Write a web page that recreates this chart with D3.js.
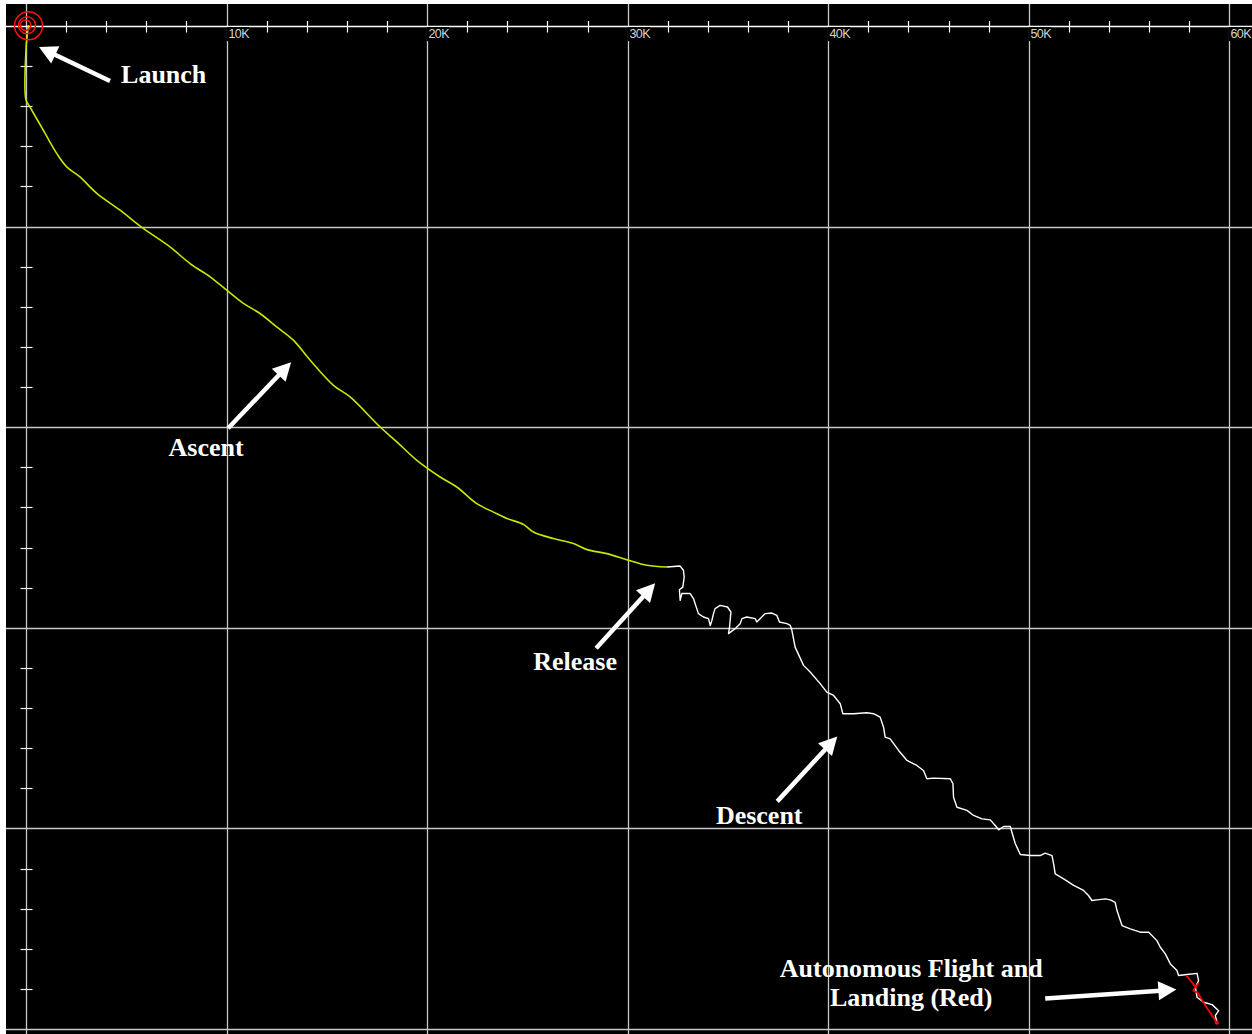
<!DOCTYPE html>
<html>
<head>
<meta charset="utf-8">
<script src="https://cdn.jsdelivr.net/npm/d3@7"></script>
<style>
  html, body { margin: 0; padding: 0; background: #ffffff; }
  svg { display: block; }
</style>
</head>
<body>
<script>
// Ground track of the flight: east / south offsets from the launch site.
const xTickValues = [10000, 20000, 30000, 40000, 50000, 60000];
const xTickLabels = ["10K", "20K", "30K", "40K", "50K", "60K"];
const yGridValues = [10000, 20000, 30000, 40000, 50000];
const minorStep = 2000;

const launchPoint = [100, 0];

// Balloon ascent track [east, south]
const ascentTrack = [
  [120, -40], [0, 1200], [0, 3690], [200, 4040], [860, 5190], [1530, 6350],
  [2030, 7020], [2690, 7520], [3530, 8340], [4690, 9180], [5850, 10090],
  [7180, 11010], [8180, 11840], [9180, 12500], [10010, 13170], [10840, 13830],
  [11670, 14330], [12500, 15000], [13330, 15660], [14170, 16660], [15330, 17910],
  [16160, 18490], [17660, 19990], [18490, 20730], [19490, 21650], [20650, 22480],
  [21480, 22980], [22480, 23810], [23310, 24230], [23980, 24550], [24800, 24840],
  [25300, 25220], [26300, 25550], [27300, 25800], [27970, 26100], [28960, 26300],
  [29960, 26600], [30960, 26880], [31960, 26970]
];

// Glider descent after release
const descentTrack = [
  [31960, 26970], [32620, 26920], [32780, 27130], [32820, 27470], [32750, 27970],
  [32580, 28100], [32620, 28630], [32700, 28290], [33120, 28290], [33280, 28540],
  [33530, 29290], [33780, 29460], [34030, 29540], [34120, 29880], [34200, 29630],
  [34280, 29290], [34360, 29040], [34610, 28880], [34980, 28960], [35150, 29210],
  [35080, 29960], [35030, 30290], [35360, 30040], [35610, 29790], [35700, 29540],
  [35940, 29460], [36360, 29540], [36440, 29710], [36860, 29290], [37190, 29260],
  [37440, 29380], [37570, 29710], [37940, 29790], [38110, 29880], [38190, 30120],
  [38350, 30960], [38770, 31870], [39100, 32200], [39600, 32780], [39930, 33200],
  [40270, 33370], [40600, 33780], [40730, 34280], [41260, 34280], [41930, 34230],
  [42260, 34280], [42590, 34450], [42760, 34950], [42840, 35450], [43090, 35530],
  [43510, 36110], [43930, 36610], [44420, 36860], [44750, 37110], [44920, 37520],
  [45250, 37490], [46090, 37520], [46220, 37770], [46250, 38440], [46420, 38940],
  [46920, 39100], [47250, 39350], [47670, 39520], [48080, 39570], [48330, 39850],
  [48500, 40070], [48750, 39900], [49080, 39900], [49160, 40190], [49330, 40760],
  [49580, 41300], [50080, 41350], [50570, 41350], [50820, 41230], [51160, 41350],
  [51240, 41760], [51320, 42260], [51740, 42510], [52240, 42840], [52730, 43090],
  [52980, 43340], [53150, 43590], [53400, 43560], [53820, 43510], [54070, 43560],
  [54310, 43680], [54400, 44090], [54650, 44840], [55060, 45000], [55560, 45170],
  [55980, 45170], [56390, 45590], [56560, 45920], [56810, 46250], [57060, 46750],
  [57390, 47080], [57470, 47330], [57890, 47280], [58390, 47220], [58470, 47580],
  [58310, 47920], [58390, 48410], [58720, 48660], [59140, 48780], [59470, 49080],
  [59300, 49330], [59390, 49660]
];

// Autonomous flight and landing segment
const autonomousTrack = [
  [57860, 47330], [58060, 47580], [58310, 47880], [58460, 47730], [58310, 47880],
  [58210, 48080], [58410, 48180], [58810, 48830], [59380, 49680]
];

// Annotations: label text, label anchor [east, south], arrow tail and tip
const annotations = [
  { lines: ["Launch"], anchor: "start", at: [4740, 2840], tail: [4190, 2740], tip: [650, 1050] },
  { lines: ["Ascent"], anchor: "middle", at: [8980, 21450], tail: [10080, 20050], tip: [13220, 16760] },
  { lines: ["Release"], anchor: "middle", at: [27380, 32120], tail: [28430, 31020], tip: [31370, 27780] },
  { lines: ["Descent"], anchor: "middle", at: [36560, 39800], tail: [37460, 38650], tip: [40450, 35410] },
  { lines: ["Autonomous Flight and", "Landing (Red)"], anchor: "middle", at: [44140, 47380], tail: [50820, 48480], tip: [57360, 48030] }
];

const W = 1252, H = 1034;
const plotLeft = 6, plotTop = 4;

const x = d3.scaleLinear().domain([0, 60000]).range([26, 1229.3]);
const y = d3.scaleLinear().domain([0, 50000]).range([26, 1029.1]);
const crisp = v => Math.round(v) + 0.5;

const svg = d3.select("body").append("svg")
  .attr("width", W).attr("height", H);

svg.append("rect").attr("x", 0).attr("y", 0).attr("width", W).attr("height", H).attr("fill", "#ffffff");
svg.append("rect").attr("x", plotLeft).attr("y", plotTop)
  .attr("width", W - plotLeft).attr("height", H - plotTop).attr("fill", "#000000");

const gridColor = "#c8c8c8";

// Vertical grid lines (incl. the left axis at 0)
svg.append("g").selectAll("line").data([0, ...xTickValues]).join("line")
  .attr("x1", d => crisp(x(d))).attr("x2", d => crisp(x(d)))
  .attr("y1", plotTop).attr("y2", H)
  .attr("stroke", gridColor).attr("stroke-width", 1.3);

// Horizontal grid lines
svg.append("g").selectAll("line").data(yGridValues).join("line")
  .attr("x1", plotLeft).attr("x2", W)
  .attr("y1", d => crisp(y(d))).attr("y2", d => crisp(y(d)))
  .attr("stroke", gridColor).attr("stroke-width", 1.3);

// Top axis line with minor ticks
svg.append("line")
  .attr("x1", plotLeft).attr("x2", W)
  .attr("y1", crisp(y(0))).attr("y2", crisp(y(0)))
  .attr("stroke", "#ffffff").attr("stroke-width", 1.3);

const xMinor = d3.range(minorStep, 60000, minorStep).filter(v => v % 10000 !== 0);
svg.append("g").selectAll("line").data(xMinor).join("line")
  .attr("x1", d => crisp(x(d))).attr("x2", d => crisp(x(d)))
  .attr("y1", crisp(y(0)) - 5.5).attr("y2", crisp(y(0)) + 6)
  .attr("stroke", "#ffffff").attr("stroke-width", 1.2);

// Left axis minor ticks
const yMinor = d3.range(minorStep, 50000, minorStep).filter(v => v % 10000 !== 0);
svg.append("g").selectAll("line").data(yMinor).join("line")
  .attr("x1", crisp(x(0)) - 6).attr("x2", crisp(x(0)) + 6)
  .attr("y1", d => crisp(y(d))).attr("y2", d => crisp(y(d)))
  .attr("stroke", "#f0f0f0").attr("stroke-width", 1.2);

// Tick labels sit on a black patch that breaks the axis and grid lines
const lab = svg.append("g").selectAll("g").data(xTickValues).join("g")
  .attr("transform", d => `translate(${crisp(x(d))},${crisp(y(0))})`);
lab.append("rect").attr("x", -1).attr("y", 0.6).attr("width", 22.5).attr("height", 14).attr("fill", "#000000");
lab.append("text")
  .attr("x", 1).attr("y", 11.5)
  .attr("font-family", "'Liberation Sans', Arial, sans-serif")
  .attr("font-size", 12.5)
  .attr("letter-spacing", -0.6)
  .attr("fill", "#d4d4d4")
  .text((d, i) => xTickLabels[i]);

// Flight tracks
const line = d3.line().x(d => x(d[0])).y(d => y(d[1]));
const smoothLine = d3.line().x(d => x(d[0])).y(d => y(d[1])).curve(d3.curveCatmullRom.alpha(0.5));

svg.append("path").datum(ascentTrack).attr("d", smoothLine)
  .attr("fill", "none").attr("stroke", "#cbe600").attr("stroke-width", 1.6)
  .attr("stroke-linejoin", "round");

svg.append("path").datum(descentTrack).attr("d", line)
  .attr("fill", "none").attr("stroke", "#ffffff").attr("stroke-width", 1.4)
  .attr("stroke-linejoin", "round");

svg.append("path").datum(autonomousTrack).attr("d", line)
  .attr("fill", "none").attr("stroke", "#ff0000").attr("stroke-width", 1.8)
  .attr("stroke-linejoin", "round");

const landing = autonomousTrack[autonomousTrack.length - 1];
svg.append("circle").attr("cx", x(landing[0])).attr("cy", y(landing[1])).attr("r", 2)
  .attr("fill", "#ff0000");

// Launch marker
const lp = [x(launchPoint[0]), y(launchPoint[1])];
[[0.5, -0.3, 14], [-1, -0.8, 8.5], [-2.4, -0.8, 5.2]].forEach(([dx, dy, r]) => {
  svg.append("circle").attr("cx", lp[0] + dx).attr("cy", lp[1] + dy).attr("r", r)
    .attr("fill", "none").attr("stroke", "#ff1010").attr("stroke-width", 1.5);
});

// Annotation arrows and labels
const headLen = 18, headHalf = 9.5;
const ann = svg.append("g");
annotations.forEach(a => {
  const tx = x(a.tail[0]), ty = y(a.tail[1]);
  const px = x(a.tip[0]), py = y(a.tip[1]);
  const dx = px - tx, dy = py - ty, len = Math.hypot(dx, dy);
  const ux = dx / len, uy = dy / len;
  const bx = px - ux * headLen, by = py - uy * headLen;
  ann.append("line")
    .attr("x1", tx).attr("y1", ty).attr("x2", bx + ux * 2).attr("y2", by + uy * 2)
    .attr("stroke", "#ffffff").attr("stroke-width", 4.5);
  ann.append("path")
    .attr("d", `M${px},${py}L${bx - uy * headHalf},${by + ux * headHalf}L${bx + uy * headHalf},${by - ux * headHalf}Z`)
    .attr("fill", "#ffffff");
  const t = ann.append("text")
    .attr("x", x(a.at[0])).attr("y", y(a.at[1]))
    .attr("text-anchor", a.anchor)
    .attr("font-family", "'Liberation Serif', 'Times New Roman', serif")
    .attr("font-weight", "bold")
    .attr("font-size", 26)
    .attr("fill", "#ffffff");
  a.lines.forEach((s, i) => {
    t.append("tspan").attr("x", x(a.at[0])).attr("dy", i === 0 ? 0 : 29).text(s);
  });
});
</script>
</body>
</html>
